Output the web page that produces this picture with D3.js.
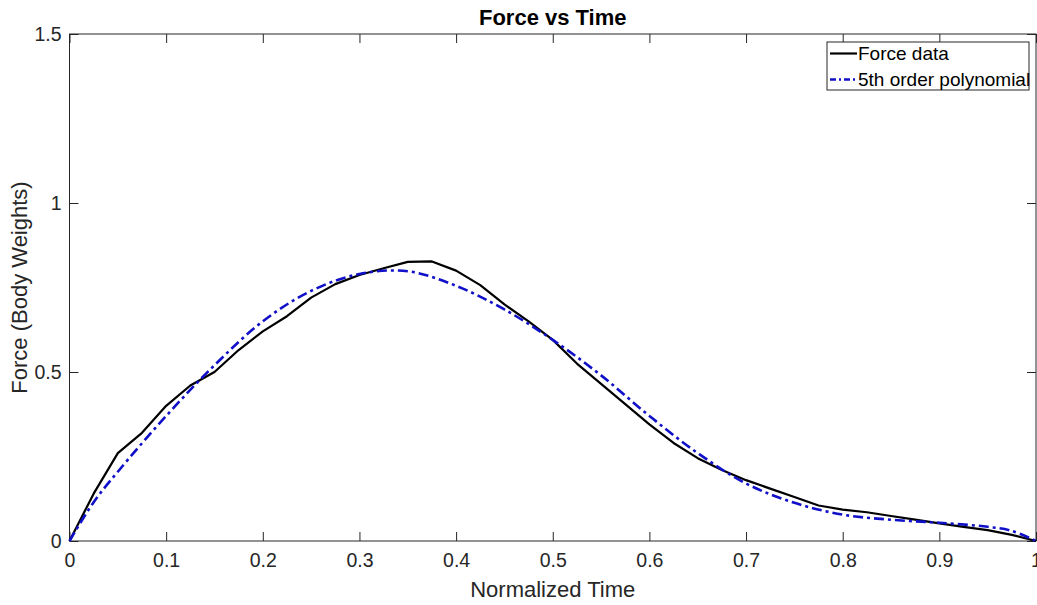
<!DOCTYPE html>
<html>
<head>
<meta charset="utf-8">
<style>
  body { margin: 0; background: #fff; }
  svg { display: block; font-family: "Liberation Sans", Arial, sans-serif; }
  .tick text { fill: #262626; font-size: 19.5px; }
  .tick line { stroke: #262626; }
</style>
</head>
<body>
<script src="https://d3js.org/d3.v7.min.js"></script>
<script>

var width = 1037,
    height = 605;
var margin = {top: 34, right: 0.5, bottom: 64, left: 69.5};

// measured force data (every 0.025 of normalized time)
var forceTime = [0, 0.025, 0.05, 0.075, 0.1, 0.125, 0.15, 0.175, 0.2, 0.225,
                 0.25, 0.275, 0.3, 0.325, 0.35, 0.375, 0.4, 0.425, 0.45, 0.475,
                 0.5, 0.525, 0.55, 0.575, 0.6, 0.625, 0.65, 0.675, 0.7, 0.725,
                 0.75, 0.775, 0.8, 0.825, 0.85, 0.875, 0.9, 0.925, 0.95, 0.975, 1];
var forceVals = [0, 0.14, 0.26, 0.32, 0.40, 0.46, 0.50, 0.565, 0.62, 0.665,
                 0.72, 0.76, 0.787, 0.807, 0.826, 0.827, 0.80, 0.757, 0.70, 0.65,
                 0.595, 0.525, 0.465, 0.405, 0.345, 0.29, 0.245, 0.21, 0.18, 0.155,
                 0.13, 0.105, 0.093, 0.085, 0.074, 0.063, 0.052, 0.042, 0.032, 0.018, 0];

// polynomial fit
var polyTime = [0, 0.025, 0.05, 0.1, 0.15, 0.2, 0.25, 0.3, 0.35, 0.4, 0.45,
                0.5, 0.55, 0.6, 0.65, 0.7, 0.75, 0.8, 0.85, 0.9, 0.95, 0.975, 1];
var polyVals = [0, 0.115, 0.205, 0.37, 0.52, 0.65, 0.74, 0.79, 0.798, 0.755, 0.685,
                0.595, 0.49, 0.37, 0.26, 0.17, 0.113, 0.078, 0.063, 0.054, 0.042, 0.03, 0];

var xTicks = [0, 0.1, 0.2, 0.3, 0.4, 0.5, 0.6, 0.7, 0.8, 0.9, 1];
var yTicks = [0, 0.5, 1, 1.5];

var legendLabels = ["Force data", "5th order polynomial"];

var svg = d3.select("body").append("svg")
    .attr("width", width)
    .attr("height", height);

var x = d3.scaleLinear().domain([0, 1]).range([margin.left, width - margin.right - 0.5]);
var y = d3.scaleLinear().domain([0, 1.5]).range([height - margin.bottom, margin.top]);

var fmt = function(d) { return String(d); };

// axes, ticks inward like matlab
svg.append("g")
    .attr("transform", "translate(0," + y(0) + ")")
    .call(d3.axisBottom(x).tickValues(xTicks).tickFormat(fmt).tickSizeInner(-9).tickSizeOuter(0).tickPadding(12))
    .call(function(g) { g.select(".domain").remove(); });

svg.append("g")
    .attr("transform", "translate(0," + y(1.5) + ")")
    .call(d3.axisTop(x).tickValues(xTicks).tickFormat("").tickSizeInner(-9).tickSizeOuter(0))
    .call(function(g) { g.select(".domain").remove(); });

svg.append("g")
    .attr("transform", "translate(" + x(0) + ",0)")
    .call(d3.axisLeft(y).tickValues(yTicks).tickFormat(fmt).tickSizeInner(-9).tickSizeOuter(0).tickPadding(8))
    .call(function(g) { g.select(".domain").remove(); });

svg.append("g")
    .attr("transform", "translate(" + x(1) + ",0)")
    .call(d3.axisRight(y).tickValues(yTicks).tickFormat("").tickSizeInner(-9).tickSizeOuter(0))
    .call(function(g) { g.select(".domain").remove(); });

// frame
svg.append("rect")
    .attr("x", x(0))
    .attr("y", y(1.5))
    .attr("width", x(1) - x(0))
    .attr("height", y(0) - y(1.5))
    .attr("fill", "none")
    .attr("stroke", "#262626")
    .attr("stroke-width", 1);

// curves
var forceLine = d3.line()
    .x(function(d, i) { return x(forceTime[i]); })
    .y(function(d) { return y(d); });

var polyLine = d3.line()
    .curve(d3.curveCatmullRom)
    .x(function(d, i) { return x(polyTime[i]); })
    .y(function(d) { return y(d); });

svg.append("path")
    .datum(forceVals)
    .attr("d", forceLine)
    .attr("fill", "none")
    .attr("stroke", "#000")
    .attr("stroke-width", 2.2)
    .attr("stroke-linejoin", "round");

svg.append("path")
    .datum(polyVals)
    .attr("d", polyLine)
    .attr("fill", "none")
    .attr("stroke", "#1010c8")
    .attr("stroke-width", 2.6)
    .attr("stroke-dasharray", "10,4,3,4");

// title + labels
svg.append("text")
    .attr("x", (x(0) + x(1)) / 2)
    .attr("y", 25)
    .attr("text-anchor", "middle")
    .attr("font-size", "22px")
    .attr("font-weight", "bold")
    .attr("fill", "#000")
    .text("Force vs Time");

svg.append("text")
    .attr("x", (x(0) + x(1)) / 2)
    .attr("y", 597)
    .attr("text-anchor", "middle")
    .attr("font-size", "22px")
    .attr("fill", "#262626")
    .text("Normalized Time");

svg.append("text")
    .attr("transform", "translate(27," + ((y(0) + y(1.5)) / 2) + ") rotate(-90)")
    .attr("text-anchor", "middle")
    .attr("font-size", "22px")
    .attr("fill", "#262626")
    .text("Force (Body Weights)");

// legend
var legend = svg.append("g")
    .attr("transform", "translate(827,42)");

legend.append("rect")
    .attr("width", 202)
    .attr("height", 48)
    .attr("fill", "#fff")
    .attr("stroke", "#262626")
    .attr("stroke-width", 1);

var styles = [
  {stroke: "#000", width: 2.2, dash: null},
  {stroke: "#1010c8", width: 2.6, dash: "6,3,2,3"}
];

legendLabels.forEach(function(lbl, i) {
  var cy = 11.5 + i * 26;
  legend.append("line")
      .attr("x1", 3).attr("x2", 30)
      .attr("y1", cy).attr("y2", cy)
      .attr("stroke", styles[i].stroke)
      .attr("stroke-width", styles[i].width)
      .attr("stroke-dasharray", styles[i].dash);
  legend.append("text")
      .attr("x", 31)
      .attr("y", cy + 6.5)
      .attr("font-size", "19px")
      .attr("fill", "#000")
      .text(lbl);
});

</script>
</body>
</html>
